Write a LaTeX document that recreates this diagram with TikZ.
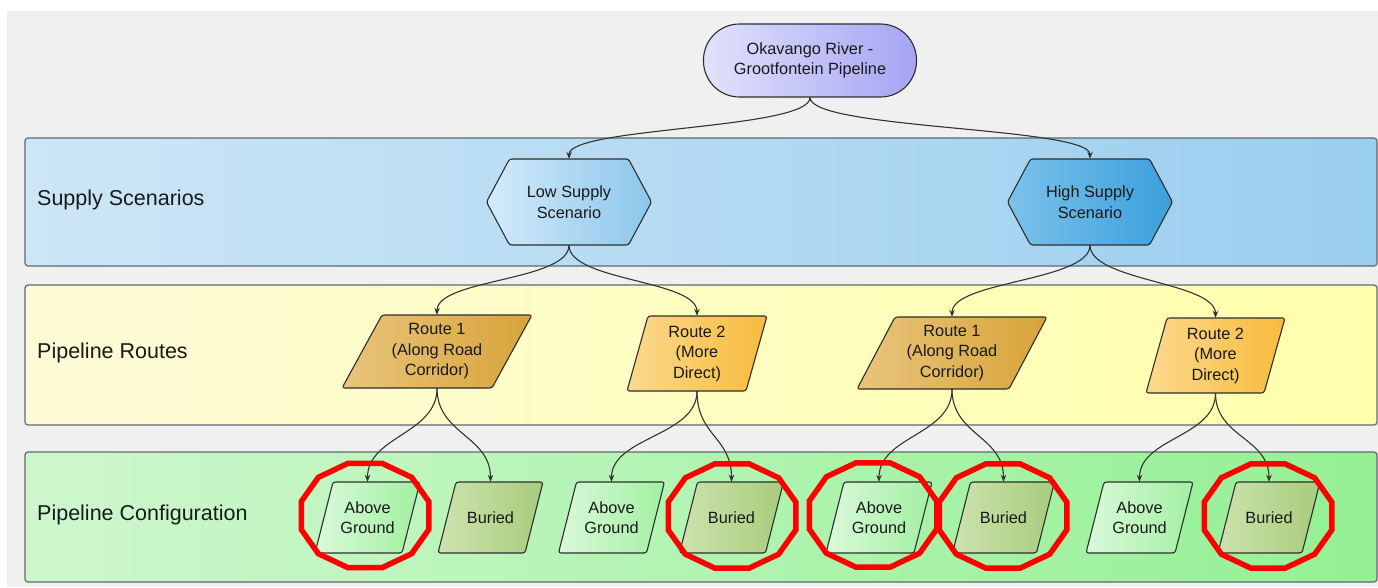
\documentclass[tikz,border=0pt]{standalone}
\usepackage{fontspec}
\setmainfont{Liberation Sans}
\usetikzlibrary{arrows.meta}
\definecolor{bgray}{HTML}{F0F0F0}
\definecolor{edgec}{HTML}{333333}
\definecolor{bandline}{HTML}{5E6A70}
\definecolor{txt}{HTML}{1A1A1A}
\definecolor{blueL}{HTML}{CDE6F6}
\definecolor{blueR}{HTML}{9ACEEF}
\definecolor{lowL}{HTML}{D4EBF9}
\definecolor{lowR}{HTML}{8CC6EC}
\definecolor{highL}{HTML}{7CC2EA}
\definecolor{highR}{HTML}{3A9FDC}
\definecolor{yelL}{HTML}{FDFBD6}
\definecolor{yelR}{HTML}{FFFFAC}
\definecolor{r1L}{HTML}{E9C47C}
\definecolor{r1R}{HTML}{D8A43A}
\definecolor{r2L}{HTML}{FCD98E}
\definecolor{r2R}{HTML}{F7BB3C}
\definecolor{grnL}{HTML}{CEF7CE}
\definecolor{grnR}{HTML}{94F094}
\definecolor{agL}{HTML}{DAF9DA}
\definecolor{agR}{HTML}{A2F0A2}
\definecolor{buL}{HTML}{CDE3AE}
\definecolor{buR}{HTML}{A8CC7C}
\definecolor{topL}{HTML}{E2E2FC}
\definecolor{topR}{HTML}{A4A4F4}
\definecolor{ringred}{HTML}{FF0000}
\tikzset{
  band/.style={draw=bandline, line width=1.2pt, rounded corners=3pt},
  bandlabel/.style={anchor=west, text=txt, font=\fontsize{21.5pt}{25pt}\selectfont, inner sep=0pt},
  lbl/.style={rectangle, draw=none, inner sep=0pt, align=center, text=txt, font=\fontsize{16.3pt}{20.5pt}\selectfont},
  shapeline/.style={draw=edgec!90!black, line width=1.1pt, rounded corners=2.5pt},
  conn/.style={draw=edgec, line width=1.1pt, -{Stealth[length=7pt,width=5.5pt]}},
  ring/.style={draw=ringred, line width=5.5pt, line join=miter},
}
% parallelogram: name, cx, cy, w, h, slant, left colour, right colour, text
\newcommand\pgram[9]{%
  \shadedraw[shapeline, left color=#7, right color=#8]
    ({#2-#4/2},{#3+#5/2}) -- ({#2+#4/2-#6},{#3+#5/2}) -- ({#2+#4/2},{#3-#5/2}) -- ({#2-#4/2+#6},{#3-#5/2}) -- cycle;
  \node[lbl, minimum width=#4pt, minimum height=#5pt] (#1) at (#2,#3) {#9};}
% hexagon: name, cx, cy, left colour, right colour, text
\newcommand\hexa[6]{%
  \shadedraw[shapeline, left color=#4, right color=#5]
    ({#2-82.5},#3) -- ({#2-59.5},{#3-43}) -- ({#2+59.5},{#3-43}) -- ({#2+82.5},#3) -- ({#2+59.5},{#3+43}) -- ({#2-59.5},{#3+43}) -- cycle;
  \node[lbl, minimum width=165pt, minimum height=86pt] (#1) at (#2,#3) {#6};}
% ring: cx, cy
\newcommand\hring[2]{%
  \draw[ring, shift={(#1,#2)}] (15:66 and 54) -- (45:66 and 54) -- (75:66 and 54) -- (105:66 and 54) -- (135:66 and 54) -- (165:66 and 54) -- (195:66 and 54) -- (225:66 and 54) -- (255:66 and 54) -- (285:66 and 54) -- (315:66 and 54) -- (345:66 and 54) -- cycle;}
\newcommand\link[3]{% from, to, control length
  \draw[conn] (#1.south) .. controls +(0,#3) and +(0,-#3) .. (#2.north);}
\begin{document}
\begin{tikzpicture}[x=1pt, y=-1pt]
\useasboundingbox (0,0) rectangle (1378,587);
\fill[white] (0,0) rectangle (1378,587);
\fill[bgray] (7,11) rectangle (1378,587);

% bands
\shadedraw[band, left color=blueL, right color=blueR] (25,138) rectangle (1377,266);
\shadedraw[band, left color=yelL, right color=yelR] (25,285) rectangle (1377,425);
\shadedraw[band, left color=grnL, right color=grnR] (25,452) rectangle (1377,582);
\node[bandlabel] (lab1) at (37,200) {Supply Scenarios};
\node[bandlabel] (lab2) at (37,353) {Pipeline Routes};
\node[bandlabel] (lab3) at (37,515) {Pipeline Configuration};

% top node
\node[lbl, draw=edgec!90!black, line width=1.1pt, rounded corners=36pt, left color=topL, right color=topR,
      minimum width=213pt, minimum height=73pt] (top) at (810,60.5) {Okavango River -\\Grootfontein Pipeline};

% scenarios
\hexa{low}{569}{202}{lowL}{lowR}{Low Supply\\Scenario}
\hexa{high}{1090}{202}{highL}{highR}{High Supply\\Scenario}

% routes
\pgram{ra}{437}{351.5}{190}{73}{40}{r1L}{r1R}{Route 1\\(Along Road\\Corridor)}
\pgram{rb}{697}{353.5}{140}{75}{21}{r2L}{r2R}{Route 2\\(More\\Direct)}
\pgram{rc}{952}{353}{190}{72}{38}{r1L}{r1R}{Route 1\\(Along Road\\Corridor)}
\pgram{rd}{1215.5}{355.5}{139}{75}{21}{r2L}{r2R}{Route 2\\(More\\Direct)}

% configurations
\pgram{ag1}{367.5}{517.5}{105}{71}{18}{agL}{agR}{Above\\Ground}
\pgram{bu1}{490.5}{517.5}{105}{71}{18}{buL}{buR}{Buried}
\pgram{ag2}{611.5}{517.5}{106}{71}{18}{agL}{agR}{Above\\Ground}
\pgram{bu2}{731.5}{517.5}{104}{71}{18}{buL}{buR}{Buried}
\pgram{ag3}{879}{517.5}{106}{71}{18}{agL}{agR}{Above\\Ground}
\pgram{bu3}{1003.5}{517.5}{102}{71}{18}{buL}{buR}{Buried}
\pgram{ag4}{1139.5}{517.5}{107}{71}{18}{agL}{agR}{Above\\Ground}
\pgram{bu4}{1269}{517.5}{102}{71}{18}{buL}{buR}{Buried}

% connectors
\link{top}{low}{32}
\link{top}{high}{32}
\link{low}{ra}{36}
\link{low}{rb}{36}
\link{high}{rc}{36}
\link{high}{rd}{36}
\link{ra}{ag1}{46}
\link{ra}{bu1}{46}
\link{rb}{ag2}{45}
\link{rb}{bu2}{45}
\link{rc}{ag3}{46}
\link{rc}{bu3}{46}
\link{rd}{ag4}{44}
\link{rd}{bu4}{44}

% highlight rings
\hring{365}{515.5}
\hring{732}{516}
\hring{873}{515}
\hring{1003}{516}
\hring{1268}{516}
\end{tikzpicture}
\end{document}
